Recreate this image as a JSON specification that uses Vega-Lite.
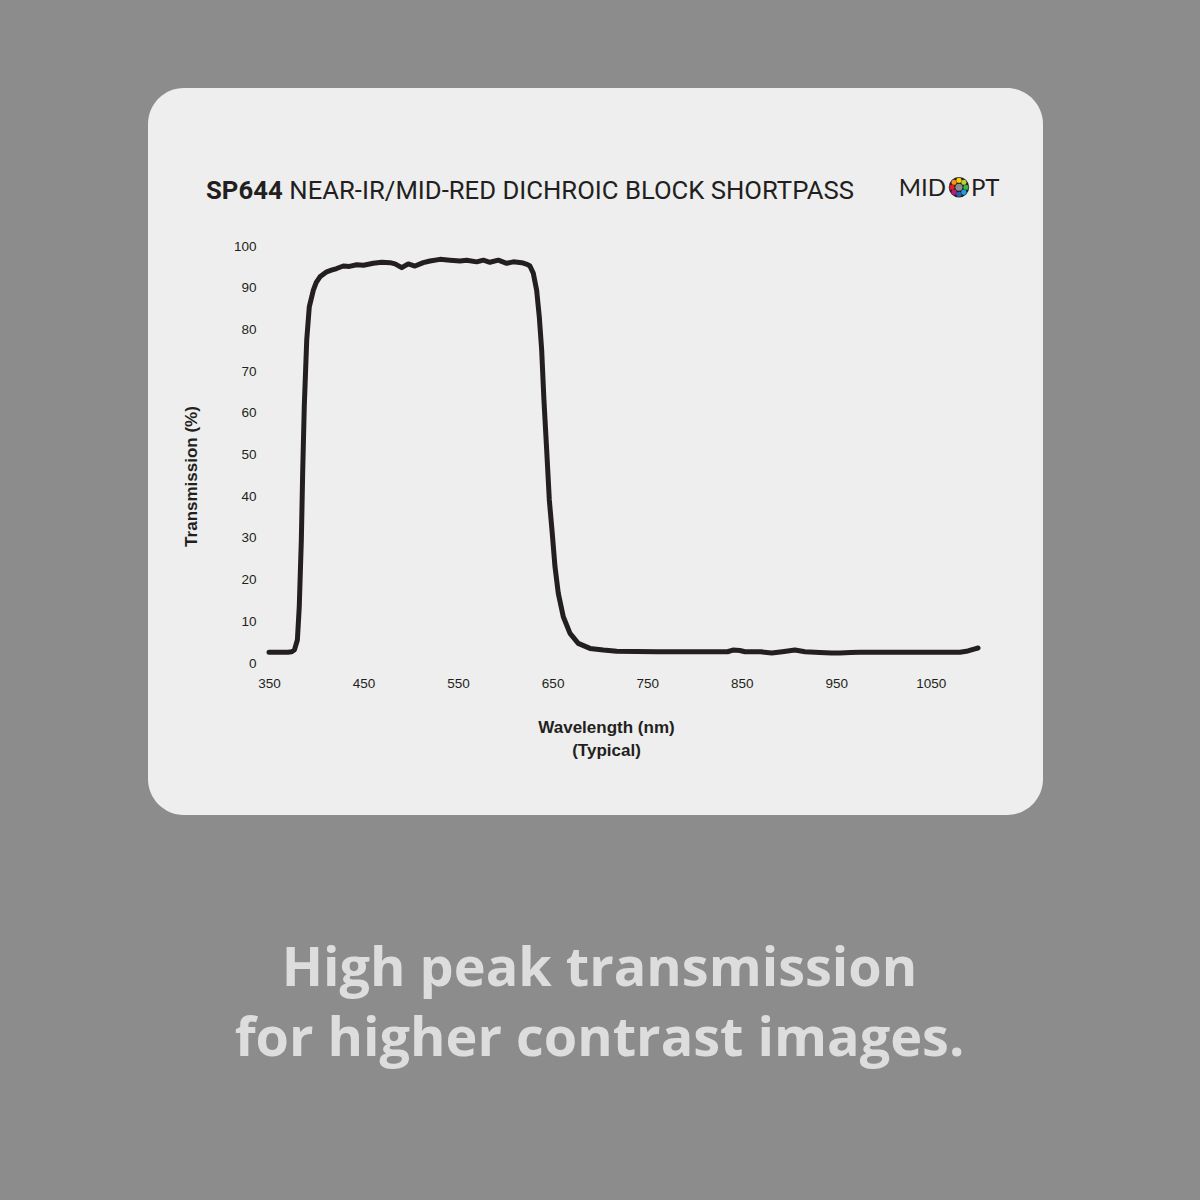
{
  "$schema": "https://vega.github.io/schema/vega-lite/v6.json",
  "width": 895,
  "height": 727,
  "autosize": {"type": "none"},
  "padding": {"left": 148, "top": 88, "right": 157, "bottom": 385},
  "background": "#8c8c8c",
  "title": {
    "text": ["High peak transmission", "for higher contrast images."],
    "orient": "bottom",
    "anchor": "middle",
    "dx": 4,
    "font": "Open Sans",
    "fontSize": 54,
    "fontWeight": "bold",
    "color": "#dddddd",
    "lineHeight": 70,
    "offset": 128,
    "baseline": "top"
  },
  "data": {
    "values": [
      {"wavelength": 350, "transmission": 2.6},
      {"wavelength": 360, "transmission": 2.6},
      {"wavelength": 370, "transmission": 2.6},
      {"wavelength": 374, "transmission": 2.7},
      {"wavelength": 377, "transmission": 3.2},
      {"wavelength": 380, "transmission": 5.5},
      {"wavelength": 382, "transmission": 13.5},
      {"wavelength": 384.2, "transmission": 29.5},
      {"wavelength": 385.6, "transmission": 45.6},
      {"wavelength": 387.3, "transmission": 61.5},
      {"wavelength": 389.9, "transmission": 77.5},
      {"wavelength": 392.6, "transmission": 85.4},
      {"wavelength": 396.9, "transmission": 89.4},
      {"wavelength": 400, "transmission": 91.3},
      {"wavelength": 403.9, "transmission": 92.6},
      {"wavelength": 411, "transmission": 93.8},
      {"wavelength": 416, "transmission": 94.2},
      {"wavelength": 421.6, "transmission": 94.6},
      {"wavelength": 428.6, "transmission": 95.2},
      {"wavelength": 435, "transmission": 95.1},
      {"wavelength": 442.8, "transmission": 95.5},
      {"wavelength": 450, "transmission": 95.4},
      {"wavelength": 460.3, "transmission": 95.85},
      {"wavelength": 469.2, "transmission": 96.1},
      {"wavelength": 478, "transmission": 96.0},
      {"wavelength": 483.3, "transmission": 95.7},
      {"wavelength": 490.4, "transmission": 94.8},
      {"wavelength": 497.3, "transmission": 95.7},
      {"wavelength": 504.4, "transmission": 95.2},
      {"wavelength": 513.2, "transmission": 96.0},
      {"wavelength": 520.3, "transmission": 96.4},
      {"wavelength": 530.9, "transmission": 96.8},
      {"wavelength": 541.4, "transmission": 96.6},
      {"wavelength": 552, "transmission": 96.4},
      {"wavelength": 559.1, "transmission": 96.6},
      {"wavelength": 569.7, "transmission": 96.2},
      {"wavelength": 576.7, "transmission": 96.6},
      {"wavelength": 583.7, "transmission": 96.1},
      {"wavelength": 592.5, "transmission": 96.6},
      {"wavelength": 601.4, "transmission": 95.85},
      {"wavelength": 608.4, "transmission": 96.2},
      {"wavelength": 617.3, "transmission": 96.0},
      {"wavelength": 623, "transmission": 95.6},
      {"wavelength": 626, "transmission": 95.2},
      {"wavelength": 629.5, "transmission": 93.5},
      {"wavelength": 633.1, "transmission": 89.4},
      {"wavelength": 635.9, "transmission": 83.0},
      {"wavelength": 638.4, "transmission": 75.1},
      {"wavelength": 640.8, "transmission": 63.1},
      {"wavelength": 643.7, "transmission": 51.1},
      {"wavelength": 646.5, "transmission": 39.1},
      {"wavelength": 649.6, "transmission": 31.1},
      {"wavelength": 652.5, "transmission": 23.1},
      {"wavelength": 656, "transmission": 16.7},
      {"wavelength": 661.3, "transmission": 11.1},
      {"wavelength": 668.4, "transmission": 7.1},
      {"wavelength": 677.1, "transmission": 4.7},
      {"wavelength": 689.5, "transmission": 3.5},
      {"wavelength": 703.6, "transmission": 3.1},
      {"wavelength": 717.7, "transmission": 2.8},
      {"wavelength": 760, "transmission": 2.7},
      {"wavelength": 805, "transmission": 2.7},
      {"wavelength": 835, "transmission": 2.7},
      {"wavelength": 840.7, "transmission": 3.1},
      {"wavelength": 848, "transmission": 3.0},
      {"wavelength": 853.4, "transmission": 2.7},
      {"wavelength": 870, "transmission": 2.7},
      {"wavelength": 881.7, "transmission": 2.4},
      {"wavelength": 893, "transmission": 2.7},
      {"wavelength": 906.3, "transmission": 3.1},
      {"wavelength": 916.9, "transmission": 2.7},
      {"wavelength": 932.8, "transmission": 2.5},
      {"wavelength": 945, "transmission": 2.4},
      {"wavelength": 953.9, "transmission": 2.4},
      {"wavelength": 965, "transmission": 2.5},
      {"wavelength": 975.1, "transmission": 2.6},
      {"wavelength": 996.2, "transmission": 2.6},
      {"wavelength": 1040, "transmission": 2.6},
      {"wavelength": 1080.8, "transmission": 2.6},
      {"wavelength": 1089.3, "transmission": 2.9},
      {"wavelength": 1096.7, "transmission": 3.4},
      {"wavelength": 1100, "transmission": 3.6}
    ]
  },
  "encoding": {
    "x": {
      "type": "quantitative",
      "scale": {"domain": [222.0, 1168.7], "nice": false, "zero": false},
      "axis": {
        "values": [350, 450, 550, 650, 750, 850, 950, 1050],
        "format": "d",
        "offset": -139,
        "labelPadding": 0,
        "ticks": false,
        "tickSize": 0,
        "domain": false,
        "grid": false,
        "title": ["Wavelength (nm)", "(Typical)"],
        "titleX": 458,
        "titlePadding": 30,
        "titleLineHeight": 23
      }
    },
    "y": {
      "type": "quantitative",
      "scale": {"domain": [-36.45, 137.89], "nice": false, "zero": false},
      "axis": {
        "values": [0, 10, 20, 30, 40, 50, 60, 70, 80, 90, 100],
        "format": "d",
        "offset": -108,
        "labelPadding": 0,
        "ticks": false,
        "tickSize": 0,
        "domain": false,
        "grid": false,
        "title": "Transmission (%)",
        "titleY": 388,
        "titlePadding": 33
      }
    }
  },
  "layer": [
    {
      "mark": {"type": "line", "color": "#231f20", "strokeWidth": 5, "strokeJoin": "round", "strokeCap": "round"},
      "encoding": {
        "x": {"field": "wavelength", "type": "quantitative"},
        "y": {"field": "transmission", "type": "quantitative"}
      }
    },
    {
      "data": {"values": [{}]},
      "mark": {"type": "text", "text": "SP644", "font": "Roboto", "fontWeight": "bold", "fontSize": 25.7, "color": "#231f20", "align": "left", "baseline": "alphabetic"},
      "encoding": {"x": {"datum": 283.4}, "y": {"datum": 111.27}}
    },
    {
      "data": {"values": [{}]},
      "mark": {"type": "text", "text": "NEAR-IR/MID-RED DICHROIC BLOCK SHORTPASS", "font": "Roboto", "fontWeight": "normal", "fontSize": 25.7, "color": "#231f20", "align": "right", "baseline": "alphabetic"},
      "encoding": {"x": {"datum": 968.7}, "y": {"datum": 111.27}}
    },
    {
      "data": {"values": [{}]},
      "mark": {"type": "text", "text": "MID", "font": "Lato", "fontWeight": "normal", "fontSize": 24, "color": "#231f20", "align": "right", "baseline": "alphabetic"},
      "encoding": {"x": {"datum": 1066.0}, "y": {"datum": 112.0}}
    },
    {
      "data": {"values": [{}]},
      "mark": {"type": "text", "text": "PT", "font": "Lato", "fontWeight": "normal", "fontSize": 24, "color": "#231f20", "align": "left", "baseline": "alphabetic"},
      "encoding": {"x": {"datum": 1092.5}, "y": {"datum": 112.0}}
    },
    {
      "data": {"values": [{}]},
      "mark": {"type": "point", "filled": true, "opacity": 1, "size": 415, "color": "#231f20"},
      "encoding": {"x": {"datum": 1079.8}, "y": {"datum": 114.1}}
    },
    {
      "data": {"values": [{}]},
      "mark": {"type": "point", "filled": true, "opacity": 1, "size": 50, "color": "#8e8e8e"},
      "encoding": {"x": {"datum": 1079.8}, "y": {"datum": 114.1}}
    },
    {
      "data": {"values": [{}]},
      "mark": {"type": "point", "filled": true, "opacity": 1, "size": 26, "color": "#ffd200"},
      "encoding": {"x": {"datum": 1079.8}, "y": {"datum": 115.78}}
    },
    {
      "data": {"values": [{}]},
      "mark": {"type": "point", "filled": true, "opacity": 1, "size": 26, "color": "#b5d334"},
      "encoding": {"x": {"datum": 1085.0}, "y": {"datum": 115.29}}
    },
    {
      "data": {"values": [{}]},
      "mark": {"type": "point", "filled": true, "opacity": 1, "size": 26, "color": "#39b54a"},
      "encoding": {"x": {"datum": 1087.2}, "y": {"datum": 114.1}}
    },
    {
      "data": {"values": [{}]},
      "mark": {"type": "point", "filled": true, "opacity": 1, "size": 26, "color": "#1c9fd8"},
      "encoding": {"x": {"datum": 1085.0}, "y": {"datum": 112.91}}
    },
    {
      "data": {"values": [{}]},
      "mark": {"type": "point", "filled": true, "opacity": 1, "size": 26, "color": "#2e5fac"},
      "encoding": {"x": {"datum": 1079.8}, "y": {"datum": 112.42}}
    },
    {
      "data": {"values": [{}]},
      "mark": {"type": "point", "filled": true, "opacity": 1, "size": 26, "color": "#b0217f"},
      "encoding": {"x": {"datum": 1074.6}, "y": {"datum": 112.91}}
    },
    {
      "data": {"values": [{}]},
      "mark": {"type": "point", "filled": true, "opacity": 1, "size": 26, "color": "#ec1c24"},
      "encoding": {"x": {"datum": 1072.4}, "y": {"datum": 114.1}}
    },
    {
      "data": {"values": [{}]},
      "mark": {"type": "point", "filled": true, "opacity": 1, "size": 26, "color": "#f7941d"},
      "encoding": {"x": {"datum": 1074.6}, "y": {"datum": 115.29}}
    }
  ],
  "config": {
    "view": {"fill": "#eeeeee", "cornerRadius": 36, "stroke": null},
    "axis": {
      "labelFont": "Liberation Sans",
      "labelFontSize": 13.5,
      "labelColor": "#231f20",
      "titleFont": "Liberation Sans",
      "titleFontSize": 17,
      "titleFontWeight": "bold",
      "titleColor": "#231f20"
    }
  }
}
